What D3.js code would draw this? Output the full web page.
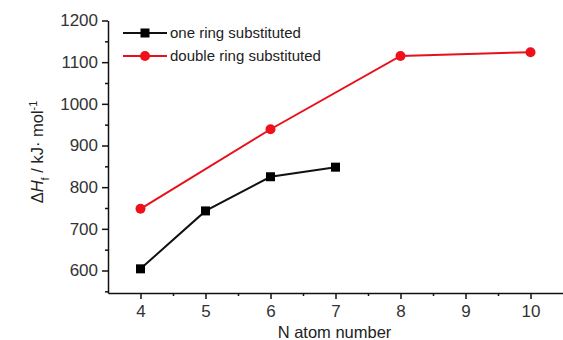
<!DOCTYPE html>
<html>
<head>
<meta charset="utf-8">
<script src="https://cdn.jsdelivr.net/npm/d3@7"></script>
<style>
  body { margin: 0; background: #fff; }
  text { font-family: "Liberation Sans", Arial, sans-serif; fill: #222; }
  .axis path, .axis line { stroke: #111; stroke-width: 1.5; }
  .axis text { font-size: 17px; fill: #333; }
</style>
</head>
<body>
<div id="chart"></div>
<script>
// svg container
var svgWidth = 563;
var svgHeight = 340;

// data
var seriesNames = ["one ring substituted", "double ring substituted"];
var oneRingN = [4, 5, 6, 7];
var oneRingH = [604, 743, 825, 848];
var doubleRingN = [4, 6, 8, 10];
var doubleRingH = [748, 939, 1115, 1124];

var xTicks = [4, 5, 6, 7, 8, 9, 10];
var xMinor = [4.5, 5.5, 6.5, 7.5, 8.5, 9.5];
var yTicks = [600, 700, 800, 900, 1000, 1100, 1200];
var yMinor = [550, 650, 750, 850, 950, 1050, 1150];

// plot area
var plotLeft = 108, plotRight = 563, plotTop = 20.5, plotBottom = 293;

var svg = d3.select("#chart").append("svg")
  .attr("width", svgWidth)
  .attr("height", svgHeight);

// scales
var xScale = d3.scaleLinear().domain([3.5, 10.5]).range([plotLeft, plotRight]);
var yScale = d3.scaleLinear().domain([546, 1200]).range([plotBottom, plotTop]);

// axes
svg.append("g")
  .attr("class", "axis")
  .attr("transform", `translate(0, ${plotBottom})`)
  .call(d3.axisBottom(xScale).tickValues(xTicks).tickFormat(d3.format("d"))
    .tickSize(6).tickPadding(6).tickSizeOuter(0));

svg.append("g")
  .attr("class", "axis")
  .attr("transform", `translate(0, ${plotBottom})`)
  .call(d3.axisBottom(xScale).tickValues(xMinor).tickSize(3).tickFormat("").tickSizeOuter(0))
  .select(".domain").remove();

svg.append("g")
  .attr("class", "axis")
  .attr("transform", `translate(${plotLeft}, 0)`)
  .call(d3.axisLeft(yScale).tickValues(yTicks).tickFormat(d3.format("d"))
    .tickSize(6).tickPadding(4).tickSizeOuter(0));

svg.append("g")
  .attr("class", "axis")
  .attr("transform", `translate(${plotLeft}, 0)`)
  .call(d3.axisLeft(yScale).tickValues(yMinor).tickSize(3).tickFormat("").tickSizeOuter(0))
  .select(".domain").remove();

// axis labels
svg.append("text")
  .attr("x", (plotLeft + plotRight) / 2 - 1)
  .attr("y", 338)
  .attr("text-anchor", "middle")
  .style("font-size", "16.5px")
  .text("N atom number");

var yLabel = svg.append("text")
  .attr("transform", `translate(43, 152) rotate(-90)`)
  .attr("text-anchor", "middle")
  .style("font-size", "16.5px");
yLabel.append("tspan").text("Δ");
yLabel.append("tspan").style("font-style", "italic").text("H");
yLabel.append("tspan").attr("baseline-shift", "sub").style("font-size", "11px").text("f");
yLabel.append("tspan").text(" / kJ· mol");
yLabel.append("tspan").attr("baseline-shift", "super").style("font-size", "11px").text("-1");

// lines
var line = d3.line()
  .x(d => xScale(d[0]))
  .y(d => yScale(d[1]));

var oneData = oneRingN.map((n, i) => [n, oneRingH[i]]);
var doubleData = doubleRingN.map((n, i) => [n, doubleRingH[i]]);

svg.append("path")
  .datum(doubleData)
  .attr("d", line)
  .attr("fill", "none")
  .attr("stroke", "#e8101c")
  .attr("stroke-width", 2);

svg.append("path")
  .datum(oneData)
  .attr("d", line)
  .attr("fill", "none")
  .attr("stroke", "#111")
  .attr("stroke-width", 2);

// markers
svg.selectAll(".dot")
  .data(doubleData)
  .enter()
  .append("circle")
  .attr("cx", d => xScale(d[0]))
  .attr("cy", d => yScale(d[1]))
  .attr("r", 5)
  .attr("fill", "#f0101c");

svg.selectAll(".sq")
  .data(oneData)
  .enter()
  .append("rect")
  .attr("x", d => xScale(d[0]) - 4.5)
  .attr("y", d => yScale(d[1]) - 4.5)
  .attr("width", 9)
  .attr("height", 9)
  .attr("fill", "#000");

// legend
var legend = svg.append("g");
var legendY = [33, 56];
var legendColor = ["#111", "#e8101c"];
seriesNames.forEach(function(name, i) {
  legend.append("line")
    .attr("x1", 123).attr("x2", 167)
    .attr("y1", legendY[i]).attr("y2", legendY[i])
    .attr("stroke", legendColor[i])
    .attr("stroke-width", 2);
  if (i == 0) {
    legend.append("rect")
      .attr("x", 140.5).attr("y", legendY[i] - 4.5)
      .attr("width", 9).attr("height", 9)
      .attr("fill", "#000");
  } else {
    legend.append("circle")
      .attr("cx", 145).attr("cy", legendY[i])
      .attr("r", 5)
      .attr("fill", "#f0101c");
  }
  legend.append("text")
    .attr("x", 170)
    .attr("y", legendY[i] + 5)
    .style("font-size", "15px")
    .text(name);
});
</script>
</body>
</html>
